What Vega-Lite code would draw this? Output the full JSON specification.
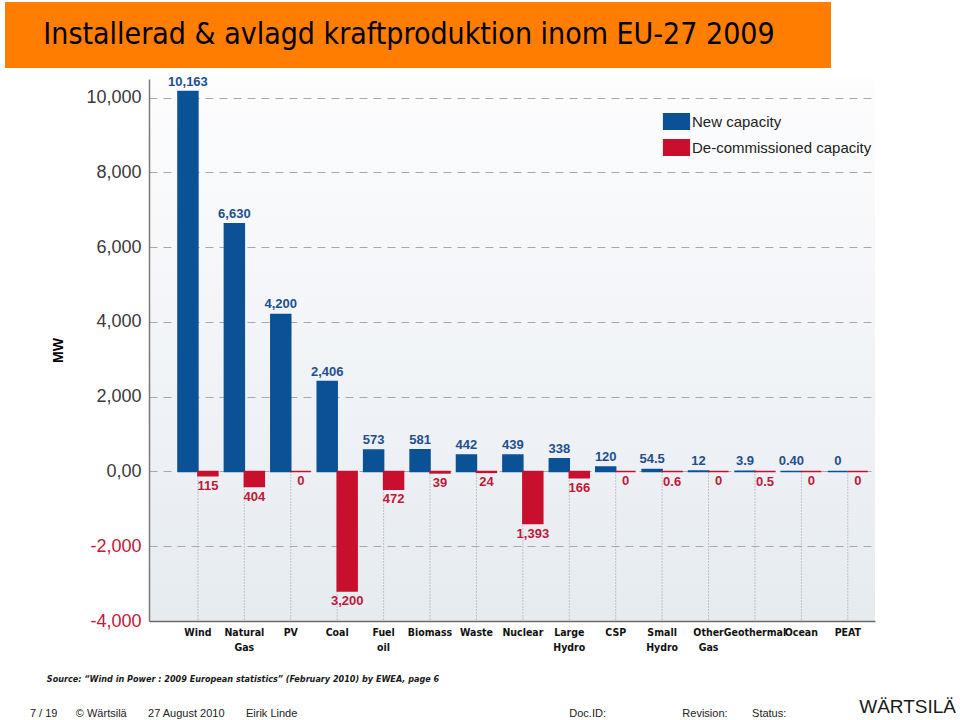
{
  "$schema": "https://vega.github.io/schema/vega-lite/v6.json",
  "padding": {"left": 5, "top": 2, "right": 0, "bottom": 0},
  "background": "white",
  "spacing": 7,
  "config": {"font": "Liberation Sans", "view": {"stroke": null}},
  "title": {
    "text": "WÄRTSILÄ",
    "orient": "bottom",
    "anchor": "end",
    "font": "Liberation Sans",
    "fontSize": 19,
    "fontWeight": "normal",
    "color": "#1a1a1a",
    "dx": 81,
    "dy": -25
  },
  "vconcat": [
    {
      "width": 826,
      "height": 66,
      "view": {"fill": "#ff7d00", "stroke": null},
      "data": {"values": [{"t": "Installerad & avlagd kraftproduktion inom EU-27 2009"}]},
      "mark": {"type": "text", "font": "DejaVu Sans Condensed", "fontSize": 30, "color": "#000000", "dx": -9},
      "encoding": {"text": {"field": "t", "type": "nominal"}}
    },
    {
      "spacing": 0,
      "hconcat": [
        {
          "width": 24,
          "height": 10,
          "data": {"values": []},
          "mark": "point"
        },
        {
          "width": 726,
          "height": 542,
          "view": {
            "fill": {"gradient": "linear", "x1": 0, "y1": 0, "x2": 0, "y2": 1,
              "stops": [{"offset": 0, "color": "#fdfdfe"}, {"offset": 1, "color": "#e6ebf0"}]},
            "stroke": null
          },
          "resolve": {"scale": {"color": "independent"}, "legend": {"color": "independent"}},
          "title": {
            "text": "\u200b\u00a0\u00a0\u00a0\u00a0\u00a0\u00a0Source: “Wind in Power : 2009 European statistics”  (February 2010) by EWEA, page 6",
            "subtitle": "7 / 19\u00a0\u00a0\u00a0\u00a0\u00a0\u00a0© Wärtsilä\u00a0\u00a0\u00a0\u00a0\u00a0\u00a0\u00a027 August 2010\u00a0\u00a0\u00a0\u00a0\u00a0\u00a0\u00a0Eirik Linde\u00a0\u00a0\u00a0\u00a0\u00a0\u00a0\u00a0\u00a0\u00a0\u00a0\u00a0\u00a0\u00a0\u00a0\u00a0\u00a0\u00a0\u00a0\u00a0\u00a0\u00a0\u00a0\u00a0\u00a0\u00a0\u00a0\u00a0\u00a0\u00a0\u00a0\u00a0\u00a0\u00a0\u00a0\u00a0\u00a0\u00a0\u00a0\u00a0\u00a0\u00a0\u00a0\u00a0\u00a0\u00a0\u00a0\u00a0\u00a0\u00a0\u00a0\u00a0\u00a0\u00a0\u00a0\u00a0\u00a0\u00a0\u00a0\u00a0\u00a0\u00a0\u00a0\u00a0\u00a0\u00a0\u00a0\u00a0\u00a0\u00a0\u00a0\u00a0\u00a0\u00a0\u00a0\u00a0\u00a0\u00a0\u00a0\u00a0\u00a0\u00a0\u00a0\u00a0\u00a0\u00a0\u00a0\u00a0\u00a0\u00a0Doc.ID:\u00a0\u00a0\u00a0\u00a0\u00a0\u00a0\u00a0\u00a0\u00a0\u00a0\u00a0\u00a0\u00a0\u00a0\u00a0\u00a0\u00a0\u00a0\u00a0\u00a0\u00a0\u00a0\u00a0\u00a0\u00a0Revision:\u00a0\u00a0\u00a0\u00a0\u00a0\u00a0\u00a0\u00a0Status:",
            "orient": "bottom",
            "anchor": "start",
            "frame": "bounds",
            "font": "DejaVu Sans Condensed",
            "fontSize": 9,
            "fontWeight": "bold",
            "fontStyle": "italic",
            "color": "#1a1a1a",
            "subtitleFont": "Liberation Sans",
            "subtitleFontSize": 11,
            "subtitleColor": "#222222",
            "subtitlePadding": 24,
            "offset": 22,
            "dx": -22
          },
          "data": {
            "values": [
              {"cat": "Wind", "type": "New capacity", "value": 10163, "label": "10,163"},
              {"cat": "Wind", "type": "De-commissioned capacity", "value": -115, "label": "115"},
              {"cat": "Natural Gas", "type": "New capacity", "value": 6630, "label": "6,630"},
              {"cat": "Natural Gas", "type": "De-commissioned capacity", "value": -404, "label": "404"},
              {"cat": "PV", "type": "New capacity", "value": 4200, "label": "4,200"},
              {"cat": "PV", "type": "De-commissioned capacity", "value": 0, "label": "0"},
              {"cat": "Coal", "type": "New capacity", "value": 2406, "label": "2,406"},
              {"cat": "Coal", "type": "De-commissioned capacity", "value": -3200, "label": "3,200"},
              {"cat": "Fuel oil", "type": "New capacity", "value": 573, "label": "573"},
              {"cat": "Fuel oil", "type": "De-commissioned capacity", "value": -472, "label": "472"},
              {"cat": "Biomass", "type": "New capacity", "value": 581, "label": "581"},
              {"cat": "Biomass", "type": "De-commissioned capacity", "value": -39, "label": "39"},
              {"cat": "Waste", "type": "New capacity", "value": 442, "label": "442"},
              {"cat": "Waste", "type": "De-commissioned capacity", "value": -24, "label": "24"},
              {"cat": "Nuclear", "type": "New capacity", "value": 439, "label": "439"},
              {"cat": "Nuclear", "type": "De-commissioned capacity", "value": -1393, "label": "1,393"},
              {"cat": "Large Hydro", "type": "New capacity", "value": 338, "label": "338"},
              {"cat": "Large Hydro", "type": "De-commissioned capacity", "value": -166, "label": "166"},
              {"cat": "CSP", "type": "New capacity", "value": 120, "label": "120"},
              {"cat": "CSP", "type": "De-commissioned capacity", "value": 0, "label": "0"},
              {"cat": "Small Hydro", "type": "New capacity", "value": 54.5, "label": "54.5"},
              {"cat": "Small Hydro", "type": "De-commissioned capacity", "value": -0.6, "label": "0.6"},
              {"cat": "Other Gas", "type": "New capacity", "value": 12, "label": "12"},
              {"cat": "Other Gas", "type": "De-commissioned capacity", "value": 0, "label": "0"},
              {"cat": "Geothermal", "type": "New capacity", "value": 3.9, "label": "3.9"},
              {"cat": "Geothermal", "type": "De-commissioned capacity", "value": -0.5, "label": "0.5"},
              {"cat": "Ocean", "type": "New capacity", "value": 0.4, "label": "0.40"},
              {"cat": "Ocean", "type": "De-commissioned capacity", "value": 0, "label": "0"},
              {"cat": "PEAT", "type": "New capacity", "value": 0, "label": "0"},
              {"cat": "PEAT", "type": "De-commissioned capacity", "value": 0, "label": "0"}
            ]
          },
          "encoding": {
            "x": {
              "field": "cat",
              "type": "nominal",
              "sort": null,
              "scale": {"paddingInner": 0.14, "paddingOuter": 0.39, "align": 0.8},
              "axis": {
                "title": null,
                "labelAngle": 0,
                "labelExpr": "split(datum.label, ' ')",
                "labelFont": "DejaVu Sans Condensed",
                "labelFontSize": 10.5,
                "labelFontWeight": "bold",
                "labelColor": "#111111",
                "labelLineHeight": 15,
                "labelPadding": 6,
                "ticks": false,
                "grid": false,
                "domainColor": "#6a6a6a",
                "domainWidth": 1.5
              }
            }
          },
          "layer": [
            {
              "transform": [{"filter": "datum.type == 'New capacity'"}],
              "mark": {"type": "rule", "color": "#9a9a9a", "strokeDash": [1, 2], "strokeWidth": 1},
              "encoding": {
                "y": {"datum": 0, "type": "quantitative"},
                "y2": {"datum": -4000}
              }
            },
            {
              "mark": {"type": "bar", "strokeWidth": 1.5},
              "encoding": {
                "xOffset": {"field": "type", "type": "nominal", "sort": ["New capacity", "De-commissioned capacity"], "scale": {"paddingInner": 0, "paddingOuter": 0}},
                "y": {
                  "field": "value",
                  "type": "quantitative",
                  "scale": {"domain": [-4000, 10500], "nice": false},
                  "axis": {
                    "title": "MW",
                    "titleFontSize": 14,
                    "titleFontWeight": "bold",
                    "titleColor": "#000000",
                    "titlePadding": 20,
                    "values": [-4000, -2000, 0, 2000, 4000, 6000, 8000, 10000],
                    "labelExpr": "datum.value === 0 ? '0,00' : replace(datum.label, '−', '-')",
                    "labelFontSize": 18,
                    "labelPadding": 8,
                    "labelColor": {"condition": {"test": "datum.value < 0", "value": "#c4173a"}, "value": "#3a3a3a"},
                    "ticks": false,
                    "grid": true,
                    "gridDash": [8, 6],
                    "gridColor": "#a8a8a8",
                    "gridWidth": 1,
                    "domainColor": "#7a7a7a",
                    "domainWidth": 1.5
                  }
                },
                "color": {
                  "field": "type",
                  "type": "nominal",
                  "scale": {"domain": ["New capacity", "De-commissioned capacity"], "range": ["#0b5196", "#c8102e"]},
                  "legend": {
                    "orient": "none",
                    "legendX": 519,
                    "legendY": 34,
                    "title": null,
                    "symbolType": "M-1.6,-1H1.6V1H-1.6Z",
                    "symbolSize": 289,
                    "symbolStrokeWidth": 0,
                    "symbolOpacity": 1,
                    "labelFont": "Liberation Sans",
                    "labelFontSize": 15,
                    "labelColor": "#222222",
                    "labelOffset": 7,
                    "labelLimit": 300,
                    "rowPadding": 9
                  }
                },
                "stroke": {
                  "field": "type",
                  "type": "nominal",
                  "scale": {"domain": ["New capacity", "De-commissioned capacity"], "range": ["#0b5196", "#c8102e"]},
                  "legend": null
                }
              }
            },
            {
              "transform": [{"filter": "datum.type == 'New capacity'"}],
              "mark": {"type": "text", "baseline": "bottom", "dy": -3, "fontWeight": "bold", "fontSize": 13, "color": "#1f4f8e"},
              "encoding": {
                "xOffset": {"field": "type", "type": "nominal", "sort": ["New capacity", "De-commissioned capacity"]},
                "y": {"field": "value", "type": "quantitative"},
                "text": {"field": "label", "type": "nominal"}
              }
            },
            {
              "transform": [{"filter": "datum.type == 'De-commissioned capacity'"}],
              "mark": {"type": "text", "baseline": "top", "dy": 4, "fontWeight": "bold", "fontSize": 13, "color": "#c0183a"},
              "encoding": {
                "xOffset": {"field": "type", "type": "nominal", "sort": ["New capacity", "De-commissioned capacity"]},
                "y": {"field": "value", "type": "quantitative"},
                "text": {"field": "label", "type": "nominal"}
              }
            }
          ]
        }
      ]
    }
  ]
}
